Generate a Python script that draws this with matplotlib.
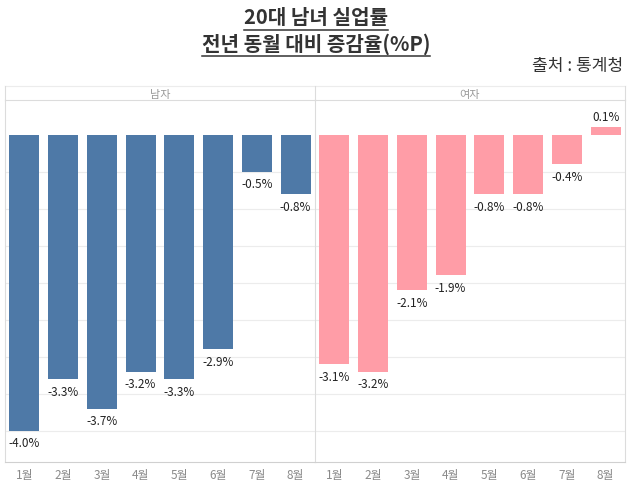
import matplotlib
matplotlib.use("Agg")
import matplotlib.pyplot as plt
from matplotlib.lines import Line2D
import numpy as np

plt.rcParams['font.family'] = ['Noto Sans CJK KR', 'DejaVu Sans']

months = ['1월', '2월', '3월', '4월', '5월', '6월', '7월', '8월']
male = [-4.0, -3.3, -3.7, -3.2, -3.3, -2.9, -0.5, -0.8]
female = [-3.1, -3.2, -2.1, -1.9, -0.8, -0.8, -0.4, 0.1]
groups = ['남자', '여자']
title_lines = ['20대 남녀 실업률', '전년 동월 대비 증감율(%P)']
source = '출처 : 통계청'

W, H = 630, 485
fig = plt.figure(figsize=(W / 100, H / 100), dpi=100)

def fx(px):
    return px / W

def fy(py):
    return 1 - py / H

top_px, bot_px = 101, 463
ax_l = fig.add_axes([fx(5), fy(bot_px), fx(310), (bot_px - top_px) / H])
ax_r = fig.add_axes([fx(315), fy(bot_px), fx(310), (bot_px - top_px) / H], sharey=ax_l)

colors = ['#4E79A7', '#FF9DA7']
x = np.arange(len(months))
for ax, vals, col in [(ax_l, male, colors[0]), (ax_r, female, colors[1])]:
    ax.bar(x, vals, width=0.77, color=col, zorder=2)
    ax.set_xlim(-0.5, len(months) - 0.5)
    ax.set_ylim(-4.42, 0.47)
    for yv in np.arange(-0.5, -4.01, -0.5):
        ax.axhline(yv, color='#ececec', lw=0.8, zorder=1)
    for xi, v in zip(x, vals):
        if v < 0:
            ax.annotate(f'{v:.1f}%', (xi, v), xytext=(0, -4), textcoords='offset points',
                        ha='center', va='top', fontsize=8.5, color='#222222')
        else:
            ax.annotate(f'{v:.1f}%', (xi, v), xytext=(0, 3), textcoords='offset points',
                        ha='center', va='bottom', fontsize=8.5, color='#222222')
    ax.set_xticks(x)
    ax.set_xticklabels(months, fontsize=8.5, color='#8a8a8a')
    ax.tick_params(axis='x', length=0, pad=4)
    ax.tick_params(axis='y', left=False, labelleft=False)
    for s in ['left', 'right', 'top']:
        ax.spines[s].set_color('#dcdcdc')
        ax.spines[s].set_linewidth(0.8)
    ax.spines['bottom'].set_color('#d0d0d0')
    ax.spines['bottom'].set_linewidth(0.8)
    ax.set_facecolor('white')
ax_l.spines['right'].set_visible(False)

# header strip
fig.add_artist(Line2D([fx(5), fx(625)], [fy(87), fy(87)], color='#ececec', lw=0.8))
fig.add_artist(Line2D([fx(5), fx(5)], [fy(87), fy(101)], color='#dcdcdc', lw=0.8))
fig.add_artist(Line2D([fx(315), fx(315)], [fy(87), fy(101)], color='#dcdcdc', lw=0.8))
fig.add_artist(Line2D([fx(625), fx(625)], [fy(87), fy(101)], color='#dcdcdc', lw=0.8))
fig.text(fx(160), fy(95), groups[0], ha='center', va='center', fontsize=8, color='#999999')
fig.text(fx(470), fy(95), groups[1], ha='center', va='center', fontsize=8, color='#999999')

# titles
t1 = fig.text(fx(316), fy(18), title_lines[0], ha='center', va='center', fontsize=14.5,
              fontweight='bold', color='#333333')
t2 = fig.text(fx(316), fy(44), title_lines[1], ha='center', va='center', fontsize=14.5,
              fontweight='bold', color='#333333')
fig.text(fx(623), fy(66), source, ha='right', va='center', fontsize=12.3, color='#333333')

fig.canvas.draw()
r = fig.canvas.get_renderer()
for t, uy in [(t1, 31), (t2, 57)]:
    bb = t.get_window_extent(renderer=r)
    fig.add_artist(Line2D([bb.x0 / W, bb.x1 / W], [fy(uy), fy(uy)], color='#333333', lw=1.1))

fig.savefig('out.png', dpi=100, facecolor='white')
